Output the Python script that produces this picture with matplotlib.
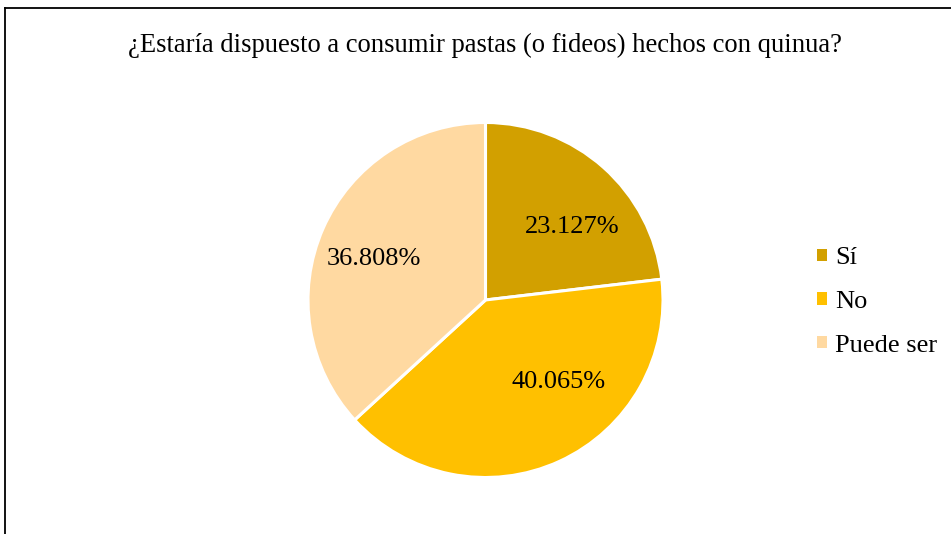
import matplotlib
matplotlib.use("Agg")
import matplotlib.pyplot as plt
from matplotlib.lines import Line2D
from matplotlib.patches import Patch

plt.rcParams['font.family'] = ['Liberation Serif', 'DejaVu Serif']

title = "¿Estaría dispuesto a consumir pastas (o fideos) hechos con quinua?"
categories = ["Sí", "No", "Puede ser"]
shares = [23.127, 40.065, 36.808]
colors = ["#D2A000", "#FFC000", "#FFD9A1"]
# label anchor points, in units of the pie radius
label_xy = [(0.49, 0.41), (0.41, -0.46), (-0.63, 0.23)]

W, H = 951, 534
fig = plt.figure(figsize=(W / 100, H / 100), dpi=100)

# outer chart frame (top and left edges show)
fig.add_artist(Line2D([4.5 / W, 1.0], [1 - 8 / H, 1 - 8 / H],
                      transform=fig.transFigure, color="black", lw=1.3))
fig.add_artist(Line2D([4.5 / W, 4.5 / W], [0.0, 1 - 8 / H],
                      transform=fig.transFigure, color="black", lw=1.3))

cx, cy, r = 485.5, H - 300, 177.5
ax = fig.add_axes([(cx - r) / W, (cy - r) / H, 2 * r / W, 2 * r / H])
wedges, _ = ax.pie(shares, colors=colors, startangle=90, counterclock=False,
                   radius=1.0, wedgeprops=dict(edgecolor="white", linewidth=2.2))
ax.set_xlim(-1.0, 1.0)
ax.set_ylim(-1.0, 1.0)
ax.set_aspect("auto")

for val, (x, y) in zip(shares, label_xy):
    ax.text(x, y, f"{val:.3f}%", ha="center", va="center", fontsize=19)

fig.text(485 / W, 1 - 45 / H, title, ha="center", va="center", fontsize=19.2)

handles = [Patch(facecolor=c, edgecolor="none") for c in colors]
fig.legend(handles, categories, loc="center left",
           bbox_to_anchor=(817 / W, 1 - 302 / H), frameon=False,
           borderpad=0, borderaxespad=0,
           fontsize=19, handlelength=0.36, handleheight=0.36,
           handletextpad=0.32, labelspacing=0.82)

fig.savefig("out.png", dpi=100, facecolor="white")
